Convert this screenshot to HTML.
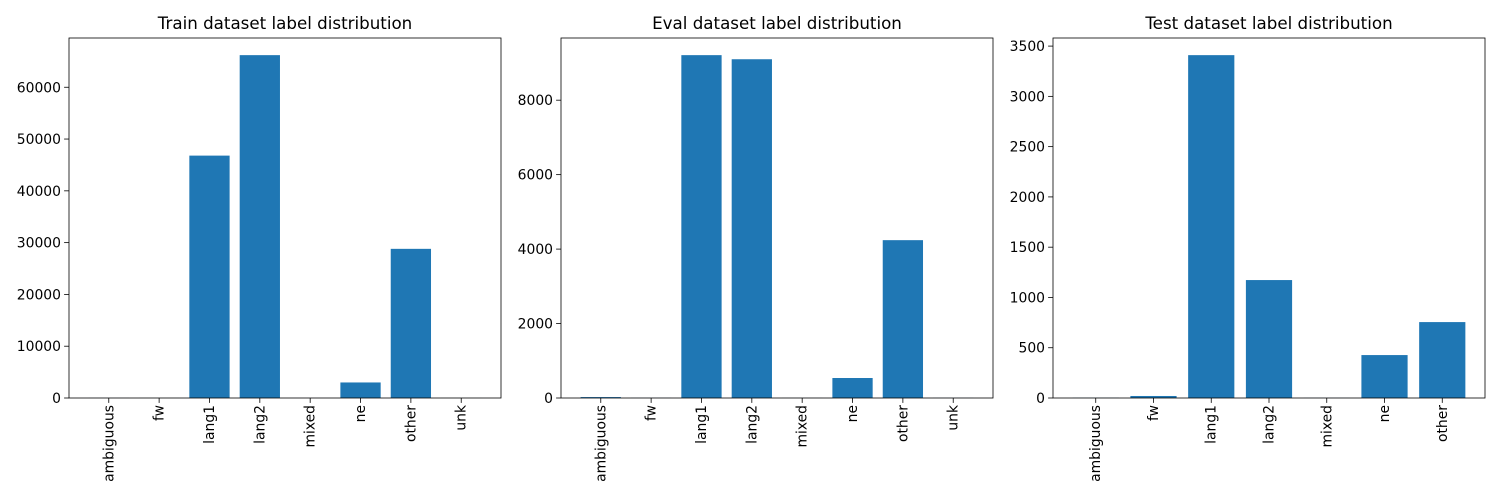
<!DOCTYPE html>
<html><head><meta charset="utf-8"><style>
html,body{margin:0;padding:0;background:#fff;}
svg{display:block;font-family:"DejaVu Sans","Liberation Sans",sans-serif;}
</style></head><body>
<svg id="c" width="1500" height="500"></svg>
<script>
const trainCats = ["ambiguous","fw","lang1","lang2","mixed","ne","other","unk"];
const trainVals = [15, 10, 46800, 66200, 5, 3000, 28800, 10];
const trainTicks = [0,10000,20000,30000,40000,50000,60000];
const evalCats = ["ambiguous","fw","lang1","lang2","mixed","ne","other","unk"];
const evalVals = [25, 3, 9210, 9100, 2, 537, 4240, 3];
const evalTicks = [0,2000,4000,6000,8000];
const testCats = ["ambiguous","fw","lang1","lang2","mixed","ne","other"];
const testVals = [2, 20, 3410, 1173, 1, 427, 755];
const testTicks = [0,500,1000,1500,2000,2500,3000,3500];
const titles = ["Train dataset label distribution","Eval dataset label distribution","Test dataset label distribution"];

const NS="http://www.w3.org/2000/svg";
const svg=document.getElementById('c');
function mk(t,a,p){const e=document.createElementNS(NS,t);for(const k in a)e.setAttribute(k,a[k]);(p||svg).appendChild(e);return e;}

function panel(idx,left,cats,vals,ticks,slug){
  const top=38,bottom=398,w=432,h=bottom-top;
  const g=mk('g',{});
  
  
  const n=cats.length;
  const x0=-0.4-0.05*(n-1+0.8), x1=n-1+0.4+0.05*(n-1+0.8);
  const xs=v=>left+(v-x0)/(x1-x0)*w;
  const ymax=Math.max(...vals)*1.05;
  const ys=v=>bottom-v/ymax*h;
  vals.forEach((v,i)=>{
    const r=mk('rect',{x:xs(i-0.4),y:ys(v),width:xs(i+0.4)-xs(i-0.4),height:bottom-ys(v),fill:'#1f77b4'},g);
    
    
  });
  cats.forEach((c,i)=>{
    const x=xs(i);
    mk('line',{x1:x,x2:x,y1:bottom,y2:bottom+4.9,stroke:'#000','stroke-width':0.8},g);
    const t=mk('text',{transform:`translate(${x+4.5},${bottom+7})rotate(-90)`,'text-anchor':'end','font-size':'13.9px'},g);
    t.textContent=c;
    
    
  });
  ticks.forEach(v=>{
    const y=ys(v);
    mk('line',{x1:left-4.9,x2:left,y1:y,y2:y,stroke:'#000','stroke-width':0.8},g);
    const t=mk('text',{x:left-8,y:y+5,'text-anchor':'end','font-size':'13.9px'},g);
    t.textContent=v;
    
    
  });
  const f=mk('rect',{x:left,y:top,width:w,height:h,fill:'none',stroke:'#000','stroke-width':0.8},g);
  
  
  const tt=mk('text',{x:left+w/2,y:top-9,'text-anchor':'middle','font-size':'16.7px'},g);
  tt.textContent=titles[idx];
  
  
}
panel(0,69,trainCats,trainVals,trainTicks,'train');
panel(1,561,evalCats,evalVals,evalTicks,'eval');
panel(2,1053,testCats,testVals,testTicks,'test');
</script>
</body></html>
